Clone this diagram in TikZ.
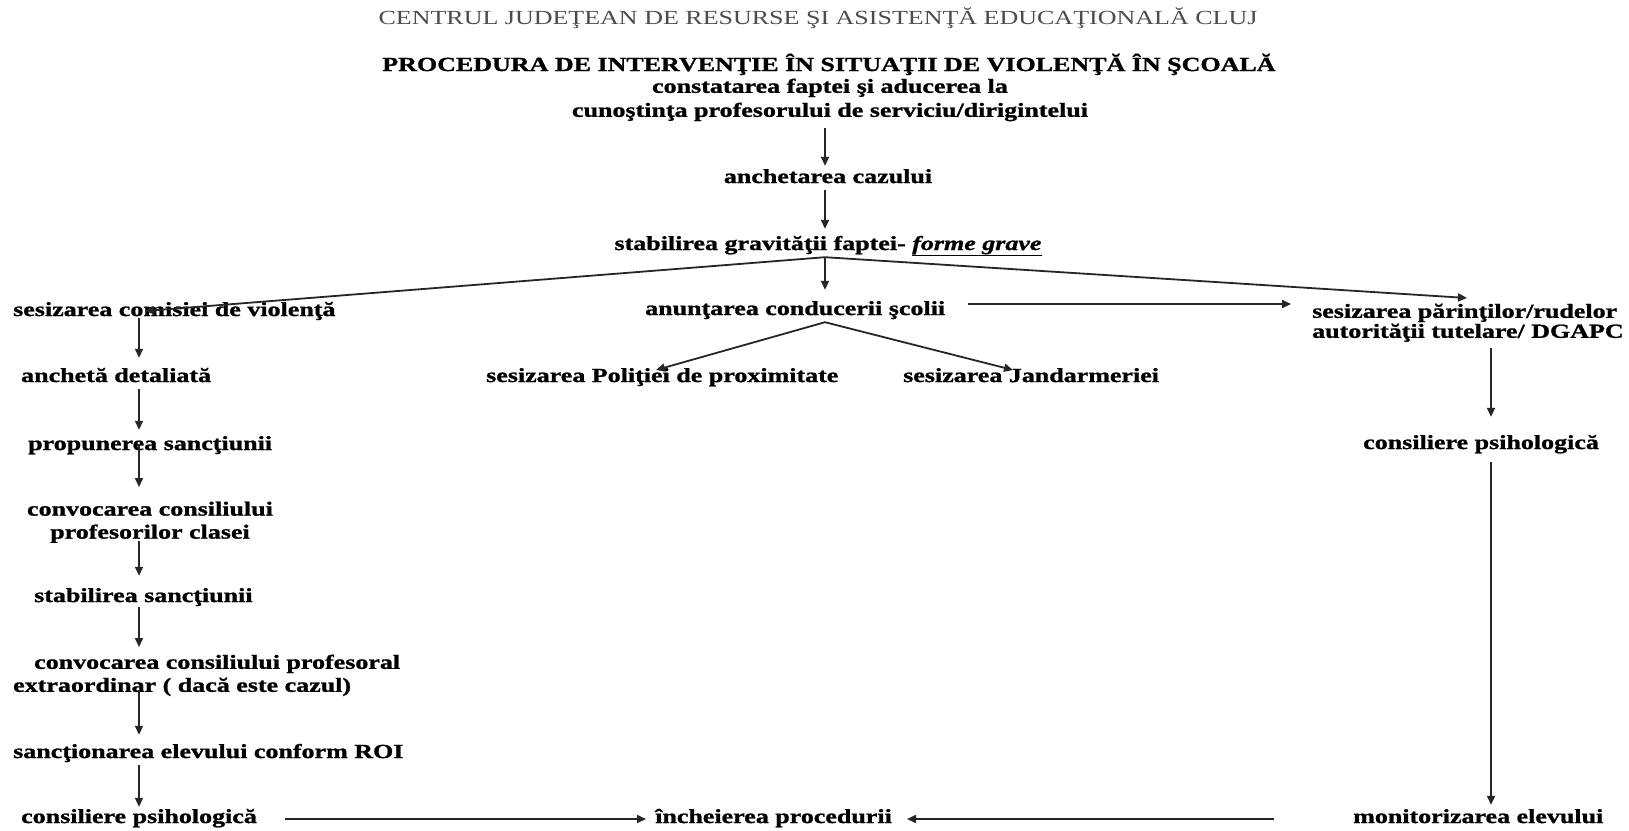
\documentclass[tikz,border=0pt]{standalone}
\usepackage{fontspec}
\setmainfont{Liberation Serif}[FakeStretch=1.3, BoldFeatures={FakeBold=1.2}, BoldItalicFeatures={FakeBold=1.2}]
\usetikzlibrary{arrows.meta,calc}
\begin{document}
\begin{tikzpicture}[x=1pt,y=-1pt,
  lbl/.style={inner sep=0pt, font=\fontsize{20}{23}\selectfont\bfseries, text height=14pt, text depth=4pt},
  mlbl/.style={inner sep=0pt, font=\fontsize{20}{23}\selectfont\bfseries},
  arr/.style={draw=black!85, line width=1.8pt, -{Triangle[length=9pt,width=8pt]}},
  ln/.style={draw=black!85, line width=1.8pt}]
\useasboundingbox (0,0) rectangle (1629,830);
\fill[white] (0,0) rectangle (1629,830);

% header
\node[inner sep=0pt, font=\fontsize{20}{23}\selectfont, text=black!70, anchor=base] (hdr) at (818,24) {CENTRUL JUDEŢEAN DE RESURSE ŞI ASISTENŢĂ EDUCAŢIONALĂ CLUJ};
\node[inner sep=0pt, font=\fontsize{20}{23}\selectfont\bfseries, anchor=base] (title) at (829,71) {PROCEDURA DE INTERVENŢIE ÎN SITUAŢII DE VIOLENŢĂ ÎN ŞCOALĂ};

% column coordinates
\coordinate (mx) at (825,0);
\coordinate (cx) at (139,0);
\coordinate (rx) at (1491,0);
\coordinate (hy) at (0,304);
\coordinate (by) at (0,819);

% centre column
\node[mlbl, align=center, anchor=north, font=\fontsize{20}{24}\selectfont\bfseries] (top) at (830,78.5) {constatarea faptei şi aducerea la\\cunoştinţa profesorului de serviciu/dirigintelui};
\node[lbl, anchor=base] (anch) at (828,183) {anchetarea cazului};
\node[lbl, anchor=base] (stab) at (828,250) {stabilirea gravităţii faptei- \underline{\textit{forme grave}}};
\node[lbl, anchor=base west] (anun) at (645,315) {anunţarea conducerii şcolii};
\node[lbl, anchor=base west] (pol) at (486,382) {sesizarea Poliţiei de proximitate};
\node[lbl, anchor=base west] (jan) at (903,382) {sesizarea Jandarmeriei};
\node[lbl, anchor=base west] (inch) at (655,823) {încheierea procedurii};

% left column
\node[lbl, anchor=base west] (com) at (13,316) {sesizarea comisiei de violenţă};
\node[lbl, anchor=base west] (ach) at (21,382) {anchetă detaliată};
\node[lbl, anchor=base west] (prop) at (28,450) {propunerea sancţiunii};
\node[mlbl, align=center, anchor=north] (conv1) at (150,501.5) {convocarea consiliului\\profesorilor clasei};
\node[lbl, anchor=base west] (stabS) at (34,602) {stabilirea sancţiunii};
\node[mlbl, align=left, anchor=north west] (conv2) at (13,654.5) {\hspace*{21pt}convocarea consiliului profesoral\\extraordinar ( dacă este cazul)};
\node[lbl, anchor=base west] (sanc) at (13,758) {sancţionarea elevului conform ROI};
\node[lbl, anchor=base west] (cons) at (21,823) {consiliere psihologică};

% right column
\node[mlbl, align=left, anchor=north west, font=\fontsize{20}{20}\selectfont\bfseries] (par) at (1312,303.5) {sesizarea părinţilor/rudelor\\autorităţii tutelare/ DGAPC};
\node[lbl, anchor=base west] (consR) at (1363,449) {consiliere psihologică};
\node[lbl, anchor=base west] (mon) at (1353,823) {monitorizarea elevului};

% centre connectors
\draw[arr, shorten <=7pt, shorten >=3pt] (top.south -| mx) -- (anch.north -| mx);
\draw[arr, shorten <=3pt, shorten >=7pt] (anch.south -| mx) -- (stab.north -| mx);
\coordinate (fan) at ($(stab.south -| mx)+(0,3)$);
\coordinate (comEnd) at ($(com.base west)+(132,-5)$);
\coordinate (parEnd) at ($(par.north west)+(155,-5.5)$);
\draw[arr, shorten >=11pt] (fan) -- (anun.north -| mx);
\draw[arr] (fan) -- (comEnd);
\draw[arr] (fan) -- (parEnd);
\draw[arr, shorten <=23pt, shorten >=21pt] (anun.east |- hy) -- (par.west |- hy);
\coordinate (fan2) at ($(anun.south -| mx)+(0,3)$);
\coordinate (polEnd) at ($(pol.base west)+(170,-12)$);
\coordinate (janEnd) at ($(jan.base west)+(110,-12)$);
\draw[arr] (fan2) -- (polEnd);
\draw[arr] (fan2) -- (janEnd);

% left connectors
\draw[arr, shorten <=-2pt, shorten >=10pt] (com.south -| cx) -- (ach.north -| cx);
\draw[arr, shorten <=3pt, shorten >=6pt] (ach.south -| cx) -- (prop.north -| cx);
\draw[arr, shorten <=-9pt, shorten >=14.5pt] (prop.south -| cx) -- (conv1.north -| cx);
\draw[arr, shorten <=-2pt, shorten >=12pt] (conv1.south -| cx) -- (stabS.north -| cx);
\draw[arr, shorten <=1pt, shorten >=7.5pt] (stabS.south -| cx) -- (conv2.north -| cx);
\draw[arr, shorten <=-6pt, shorten >=9pt] (conv2.south -| cx) -- (sanc.north -| cx);
\draw[arr, shorten <=3pt, shorten >=2pt] (sanc.south -| cx) -- (cons.north -| cx);

% right connectors
\draw[arr, shorten <=6pt, shorten >=18pt] (par.south -| rx) -- (consR.north -| rx);
\draw[arr, shorten <=9pt, shorten >=4pt] (consR.south -| rx) -- (mon.north -| rx);

% bottom connectors
\draw[arr, shorten <=28pt, shorten >=9pt] (cons.east |- by) -- (inch.west |- by);
\draw[arr, shorten <=79pt, shorten >=15pt] (mon.west |- by) -- (inch.east |- by);
\end{tikzpicture}
\end{document}
